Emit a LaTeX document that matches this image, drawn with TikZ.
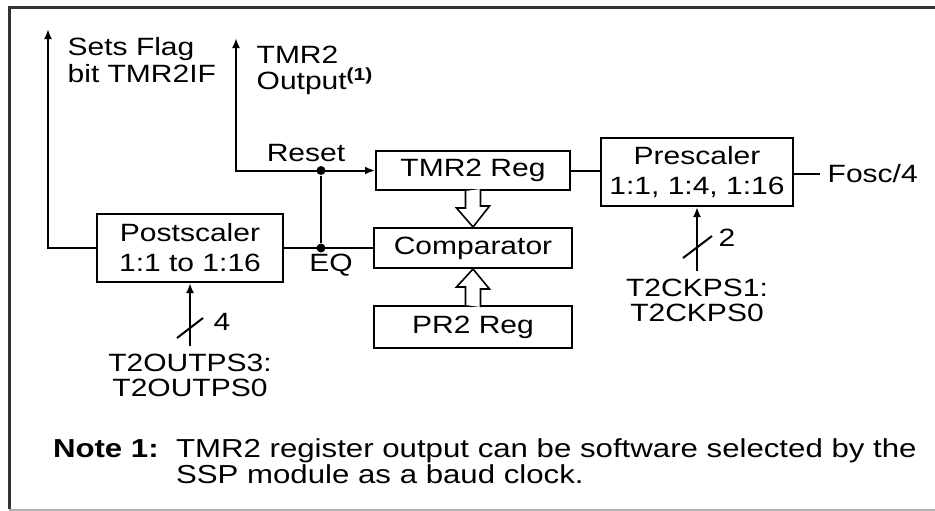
\documentclass[tikz,border=0pt]{standalone}
\usepackage{fontspec}
\setmainfont{Liberation Sans}[FakeStretch=1.2]
\usetikzlibrary{arrows.meta}
\tikzset{
  blk/.style={draw,line width=1pt,inner sep=0pt,align=center},
  tip/.style={-{Latex[length=5pt,width=4pt]}},
  dot/.style={circle,fill,inner sep=0pt,minimum size=4.5pt},
  bus/.style={draw,fill=white,line width=0.8pt},
}
\begin{document}
\begin{tikzpicture}[x=0.5pt,y=-0.5pt,line width=1pt,font=\fontsize{12.5}{15}\selectfont]
  \useasboundingbox (0,0) rectangle (935,510);
  \clip (0,0) rectangle (935,510);
  \draw[line width=1.5pt,black!80] (9,509) -- (9,7) -- (945,7);
  \draw[black!30] (9,509.5) -- (945,509.5);

  % blocks
  \node[blk,minimum width=97pt,minimum height=19.5pt] (tmr) at (473,170.5) {TMR2 Reg};
  \node[blk,minimum width=99pt,minimum height=20pt] (cmp) at (473,248) {Comparator};
  \node[blk,minimum width=99pt,minimum height=21pt] (pr2) at (473,327) {PR2 Reg};
  \node[blk,minimum width=96pt,minimum height=34pt] (pre) at (697,172) {Prescaler\\1:1, 1:4, 1:16};
  \node[blk,minimum width=93pt,minimum height=34pt] (post) at (190,248) {Postscaler\\1:1 to 1:16};

  % labels
  \node[anchor=west,align=left] (flag) at (60,60) {Sets Flag\\[-1.5pt]bit TMR2IF};
  \node[anchor=west,align=left] (out) at (249,70) {TMR2\\[-2pt]Output\textsuperscript{\textbf{(1)}}};
  \node (reset) at (306,153) {Reset};
  \node (eq) at (331,265) {EQ};
  \node[anchor=west] (fosc) at (820,174) {Fosc/4};
  \node[align=center] (cksel) at (697,300) {T2CKPS1:\\[-2.5pt]T2CKPS0};
  \node[align=center] (outsel) at (190,375) {T2OUTPS3:\\[-2.5pt]T2OUTPS0};
  \node (ckw) at (727,238) {2};
  \node (outw) at (222,322) {4};

  \coordinate (flagtop) at (48,29);
  \coordinate (outtop) at (236,38);
  \node[dot] (rdot) at (321,170.5) {};
  \node[dot] (eqdot) at (321,248) {};

  % wires
  \draw[tip] (post.west) -| (flagtop);
  \draw[{Latex[length=5pt,width=4pt]}-{Latex[length=5pt,width=4pt]}] (outtop) |- (tmr.west);
  \draw (rdot) -- (eqdot);
  \draw (post.east) -- (cmp.west);
  \draw (tmr.east) -- (tmr.east -| pre.west);
  \draw (pre.east |- fosc.west) -- (fosc.west);
  \draw[tip] (cksel.north) -- (pre.south);
  \draw[tip] (outsel.north) -- (post.south);
  \draw (pre.south) ++(-14,51) -- ++(29,-22);
  \draw (post.south) ++(-13,55) -- ++(26,-20);

  % buses
  \draw[bus] (tmr.south) ++(-7.5,0) -- ++(0,17) -- ++(-9,0) -- (cmp.north)
    -- ++(16.5,-21) -- ++(-9,0) -- ++(0,-17);
  \draw[bus] (pr2.north) ++(-7.5,0) -- ++(0,-18) -- ++(-9,0) -- (cmp.south)
    -- ++(16.5,20) -- ++(-9,0) -- ++(0,18);

  % note
  \node[anchor=base west,inner sep=0pt] (note) at (52,457) {\fontsize{13}{12.5}\selectfont
    \textbf{Note 1:}\ \ \begin{tabular}[t]{@{}l@{}}TMR2 register output can be software selected by the\\
    SSP module as a baud clock.\end{tabular}};
\end{tikzpicture}
\end{document}
